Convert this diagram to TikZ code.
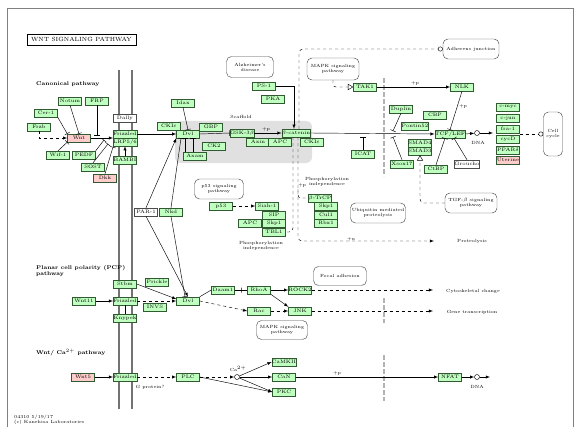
\documentclass[tikz,border=0pt]{standalone}
\usetikzlibrary{positioning}
\usetikzlibrary{calc}
\usetikzlibrary{shapes}
\usetikzlibrary{arrows}
\definecolor{keggreen}{RGB}{191,255,191}
\definecolor{keggpink}{RGB}{255,204,204}
\definecolor{keggedge}{RGB}{50,90,50}
\newcommand{\genefont}{\fontsize{5}{5.5}\selectfont}
\newcommand{\notefont}{\fontsize{4.5}{5}\selectfont}
\newcommand{\headfont}{\fontsize{5.5}{6}\selectfont\bfseries}
\tikzset{>=latex}
\tikzset{gene/.style={rectangle, draw=keggedge, fill=keggreen, minimum height=8pt, minimum width=23pt, inner sep=0pt, font=\genefont}}
\tikzset{absent/.style={gene, fill=keggpink}}
\tikzset{other/.style={gene, fill=white, draw=black!70}}
\tikzset{pathway/.style={rectangle, rounded corners=5pt, draw=black!70, fill=white, align=center, inner sep=0pt, font=\notefont}}
\tikzset{note/.style={inner sep=0pt, align=center, font=\notefont}}
\tikzset{heading/.style={inner sep=0pt, align=left, anchor=west, font=\headfont}}
\tikzset{compound/.style={circle, draw, fill=white, minimum size=5pt, inner sep=0pt}}
\tikzset{tick/.style={rectangle, draw, minimum width=0pt, minimum height=5pt, inner sep=0pt}}
\tikzset{membrane/.style={draw=black!55, line width=1.8pt}}
\tikzset{nucleus/.style={draw=black!30, line width=2.5pt, dash pattern=on 5pt off 2pt}}

\begin{document}
\begin{tikzpicture}[x=1pt, y=-1pt, line width=0.45pt]
    \useasboundingbox (0,0) rectangle (586,441);
    \fill [white] (0,0) rectangle (586,441);

    % The frame and the title.
    \draw [draw=black!50, line width=1pt] (7,427) -- (7,9) -- (573,9) -- (573,427);
    \node [draw, minimum width=109pt, minimum height=11pt, inner sep=0pt,
        font=\fontsize{6}{7}\selectfont] (title) at (81.5,39.5) {WNT SIGNALING PATHWAY};

    % The scaffold and the membranes.
    \fill [black!12, rounded corners=6pt] (175,121) rectangle (312,163);
    \draw [membrane] (119,70) -- (119,409);
    \draw [membrane] (132,70) -- (132,409);
    \draw [nucleus] (384,78) -- (384,176);
    \draw [nucleus] (384,298) -- (384,323);
    \draw [nucleus] (384,355) -- (384,401);

    % ------- Start Canonical pathway ------- %
    \node [heading] (canon) at (36,84) {Canonical pathway};
    \node [note] (scaffold) at (241,117) {Scaffold};

    \node [gene] (notum) at (70,101) {Notum};
    \node [gene] (frp) at (97,101) {FRP};
    \node [gene] (cer1) at (46,113) {Cer-1};
    \node [gene] (frzb) at (39,127) {Frzb};
    \node [absent] (wnt) at (79,138) {Wnt};
    \node [gene] (wif1) at (58,155) {Wif-1};
    \node [gene] (pedf) at (84,155) {PEDF};
    \node [gene] (sost) at (93,167) {SOST};
    \node [absent] (dkk) at (105,178) {Dkk};

    \node [other] (dally) at (125,118) {Dally};
    \node [gene] (fzd) at (125,134) {Frizzled};
    \node [gene] (lrp) at (125,142) {LRP5/6};
    \node [gene] (bambi) at (125,160) {BAMBI};

    \node [gene] (ckie) at (169,126) {CKI$\varepsilon$};
    \node [gene] (idax) at (183,103) {Idax};
    \node [gene] (dvl) at (188,134) {Dvl};
    \node [gene] (gbp) at (211,127) {GBP};
    \node [gene] (ck2) at (214,146) {CK2};
    \node [gene] (axam) at (195,156) {Axam};
    \node [gene] (gsk) at (242,133) {GSK-3$\beta$};
    \node [gene] (axin) at (258,142) {Axin};
    \node [gene] (apc) at (280,142) {APC};
    \node [gene] (bcat) at (296,133) {$\beta$-catenin};
    \node [gene] (ckieb) at (312,142) {CKI$\varepsilon$};

    \node [pathway, minimum width=47pt, minimum height=21pt] (alz) at (250,67) {Alzheimer's\\disease};
    \node [gene] (ps1) at (264,86) {PS-1};
    \node [gene] (pka) at (273,99) {PKA};

    \node [pathway, minimum width=52pt, minimum height=22pt] (mapka) at (333,69) {MAPK signaling\\pathway};
    \node [pathway, minimum width=56pt, minimum height=20pt] (adh) at (471,49) {Adherens junction};
    \node [gene] (tak1) at (365,87) {TAK1};
    \node [gene] (nlk) at (462,87) {NLK};

    \node [gene] (duplin) at (401,109) {Duplin};
    \node [gene] (cbp) at (435,115) {CBP};
    \node [gene] (pontin) at (415,126) {Pontin52};
    \node [gene] (icat) at (363,154) {ICAT};
    \node [gene] (smad4) at (420,143) {SMAD4};
    \node [gene] (smad3) at (420,151) {SMAD3};
    \node [gene] (xsox) at (402,164) {Xsox17};
    \node [gene] (ctbp) at (436,169) {CtBP};
    \node [other] (groucho) at (467,164) {Groucho};
    \node [gene] (tcf) at (450,134) {TCF/LEF};

    \node [compound] (dna1) at (477,133) {};
    \node [note] (dna1lbl) at (478,143) {DNA};
    \coordinate (dna1end) at (493,133);

    \node [gene] (cmyc) at (508,107) {c-myc};
    \node [gene] (cjun) at (508,118) {c-jun};
    \node [gene] (fra1) at (508,129) {fra-1};
    \node [gene] (cycd) at (508,139) {cycD};
    \node [gene] (ppard) at (508,150) {PPAR$\delta$};
    \node [absent] (upar) at (508,160) {Uterine};
    \node [pathway, minimum width=19pt, minimum height=44pt] (cellcycle) at (553,134) {Cell\\cycle};

    \node [pathway, minimum width=52pt, minimum height=20pt] (tgfb) at (471,203) {TGF-$\beta$ signaling\\pathway};

    \node [pathway, minimum width=49pt, minimum height=20pt] (p53path) at (219,189) {p53 signaling\\pathway};
    \node [gene] (p53) at (221,206) {p53};
    \node [gene] (siah) at (267,206) {Siah-1};
    \node [gene] (sip) at (274,215) {SIP};
    \node [gene] (apcb) at (250,223) {APC};
    \node [gene] (skp1a) at (274,223) {Skp1};
    \node [gene] (tbl1) at (274,232) {TBL1};
    \node [note] (phosa) at (261,246) {Phosphorylation\\independence};

    \node [gene] (btrcp) at (320,198) {$\beta$-TrCP};
    \node [gene] (skp1b) at (326,206) {Skp1};
    \node [gene] (cul1) at (326,215) {Cul1};
    \node [gene] (rbx1) at (326,223) {Rbx1};
    \node [note] (phosb) at (327,182) {Phosphorylation\\independence};
    \node [note] (pbcat) at (302,185) {+p};
    \node [pathway, minimum width=55pt, minimum height=20pt] (ubq) at (378,213) {Ubiquitin mediated\\proteolysis};
    \node [note] (prot) at (472,241) {Proteolysis};
    \coordinate (protend) at (434,241);
    \node [note] (plus) at (351,239) {+u};

    \node [other] (parl) at (146,212) {PAR-1};
    \node [gene] (nkd) at (171,212) {Nkd};

    % Inputs to Wnt and to the receptors.
    \draw [dashed, ->] (frzb.south) |- (wnt.west);
    \draw [-|] (cer1.south east) -- (wnt.north west);
    \draw [-|] (notum.south) -- (wnt.north);
    \coordinate (frphit) at (97,135);
    \draw [-|] (frp.south) -- (frphit);
    \draw [->] (wnt.east) -- (wnt.east -| fzd.west);
    \draw [-|] (wif1.north) -- (wnt.south west);
    \coordinate (pedfhit) at (104,140);
    \draw [-|] (pedf.north east) -- (pedfhit);
    \coordinate (sosthit) at (108,144);
    \draw [-|] (sost.north) -- (sosthit);
    \coordinate (dkkhit) at (113,147);
    \draw [-|] (dkk.north) -- (dkkhit);
    \draw [->] (bambi.north) -- (lrp.south);

    % The destruction complex and beta-catenin.
    \draw [->] (fzd.east) -- (dvl.west);
    \draw [-|] (idax.south) -- (dvl.north);
    \draw [-|] ($(axam.north)+(-10,0)$) -- ($(dvl.south)+(-3,0)$);
    \draw [-|] ($(axam.north)+(-2,0)$) -- ($(dvl.south)+(5,0)$);
    \draw [->] (parl.north) -- (dvl.south west);
    \draw [-|] (nkd.north) -- ($(dvl.south)+(-7,0)$);
    \draw [-|] (dvl.east) -- (gsk.west);
    \draw [->] (gsk.east) -- (bcat.west);
    \node [note] (pgsk) at (266,129) {+p};
    \draw [->] (ps1.east) -| ($(bcat.north)+(-2,0)$);
    \draw [dashed, -o, rounded corners=4pt] ($(bcat.north)+(3,0)$) |- (adh.west);
    \draw [dashed, rounded corners=4pt] ($(bcat.south)+(-3,0)$) |- (tbl1.east);
    \draw [dashed, ->, rounded corners=4pt] ($(bcat.south)+(2,0)$) |- (protend);
    \draw [dashed, rounded corners=3pt] ($(bcat.south)+(2,52)$) |- (btrcp.west);
    \draw [dashed, ->] (p53.east) -- (siah.west);

    % Into the nucleus.
    \draw [->] (bcat.east) -- (tcf.west);
    \draw [-|] (icat.north) -- (icat.north |- bcat.south);
    \coordinate (duplinhit) at (393,131);
    \draw [-|] (duplin.south) -- (duplinhit);
    \coordinate (xsoxhit) at (393,137);
    \draw [-|] (xsox.north) -- (xsoxhit);
    \draw [dashed, -open triangle 60, rounded corners=3pt] (mapka.south) |- (tak1.west);
    \draw [->] (tak1.east) -- (nlk.west);
    \node [note] (ptak) at (415,83) {+p};
    \draw [-|] (nlk.south) -- (tcf.north);
    \node [note] (pnlk) at (463,106) {+p};
    \draw [-|] (ctbp.north) -- ($(tcf.south)+(-5,0)$);
    \draw [-|] (groucho.north) -- ($(tcf.south)+(4,0)$);
    \draw [dashed, -open triangle 60, rounded corners=4pt] (tgfb.west) -| (smad3.south);
    \draw [->] (tcf.east) -- (dna1);
    \draw [->] (dna1) -- (dna1end);
    \draw [dashed, -o] (cycd.east |- cellcycle.west) -- (cellcycle.west);
    % ------- End Canonical pathway ------- %

    % ------- Start PCP pathway ------- %
    \node [heading] (pcp) at (36,270.5) {Planar cell polarity (PCP)\\pathway};

    \node [gene] (stbm) at (125,284) {Stbm};
    \node [gene] (prickle) at (157,282) {Prickle};
    \node [gene] (wnt11) at (84,301) {Wnt11};
    \node [gene] (fzdb) at (125,301) {Frizzled};
    \node [gene] (knypek) at (125,318) {Knypek};
    \node [gene] (invs) at (155,307) {INVS};
    \node [gene] (dvlb) at (188,301) {Dvl};
    \node [gene] (daam1) at (223,290) {Daam1};
    \node [gene] (rhoa) at (259,290) {RhoA};
    \node [gene] (rock2) at (300,290) {ROCK2};
    \node [gene] (rac) at (259,311) {Rac};
    \node [gene] (jnk) at (300,311) {JNK};
    \node [pathway, minimum width=53pt, minimum height=19pt] (focal) at (340,276) {Focal adhesion};
    \node [pathway, minimum width=51pt, minimum height=19pt] (mapkb) at (282,330) {MAPK signaling\\pathway};
    \node [note] (cyto) at (473,291) {Cytoskeletal change};
    \coordinate (cytoend) at (433,290);
    \node [note] (genetr) at (472,312) {Gene transcription};
    \coordinate (geneend) at (433,311);

    \draw [->] (parl.south) -- (dvlb.north);
    \draw [-|] (nkd.south) -- ($(dvlb.north)+(-3,0)$);
    \draw [->] (wnt11.east) -- (fzdb.west);
    \draw [dashed, ->] (fzdb.east) -- (dvlb.west);
    \draw [->] (stbm.east) -- ($(dvlb.west)+(0,-2)$);
    \draw (fzdb.south) -- (knypek.north);
    \draw (dvlb.north east) -- (daam1.west);
    \draw (daam1.east) -- (rhoa.west) node [midway, tick] {};
    \draw [->] (rhoa.east) -- (rock2.west);
    \draw [->] (rhoa.south east) -- (jnk.north west);
    \draw [dashed, ->] (dvlb.east) -- (rac.west);
    \draw [dashed, ->] (rac.east) -- (jnk.west);
    \draw [dashed, ->] (rock2.east) -- (cytoend);
    \draw [dashed, ->] (jnk.east) -- (geneend);
    % ------- End PCP pathway ------- %

    % ------- Start Wnt/Ca pathway ------- %
    \node [heading] (capath) at (36,353) {Wnt/ Ca$^{2+}$ pathway};

    \node [absent] (wnt5) at (83,377) {Wnt5};
    \node [gene] (fzdc) at (125,377) {Frizzled};
    \node [note] (gprot) at (150,387) {G protein?};
    \node [gene] (plc) at (188,377) {PLC};
    \node [compound] (ca) at (237,377) {};
    \node [note] (calbl) at (238,369) {Ca$^{2+}$};
    \node [gene] (camk) at (284,362) {CaMKII};
    \node [gene] (can) at (284,377) {CaN};
    \node [gene] (pkc) at (284,392) {PKC};
    \node [gene] (nfat) at (450,377) {NFAT};
    \node [compound] (dna2) at (477,377) {};
    \node [note] (dna2lbl) at (477,387) {DNA};
    \coordinate (dna2end) at (490,377);

    \draw [->] (wnt5.east) -- (fzdc.west);
    \draw [dashed, ->] (fzdc.east) -- (plc.west);
    \draw [dashed, ->] (plc.east) -- (ca.west);
    \draw [->] (plc.east) -- (pkc.west);
    \draw [->] (ca) -- (camk.west);
    \draw [->] (ca) -- (can.west);
    \draw [->] (ca) -- (pkc.west);
    \draw [->] (can.east) -- (nfat.west);
    \node [note] (pcan) at (337,373) {+p};
    \draw [->] (nfat.east) -- (dna2);
    \draw [->] (dna2) -- (dna2end);
    % ------- End Wnt/Ca pathway ------- %

    \node [note, anchor=west, align=left] (stamp) at (14,420) {04310 5/19/17\\(c) Kanehisa Laboratories};
\end{tikzpicture}
\end{document}
